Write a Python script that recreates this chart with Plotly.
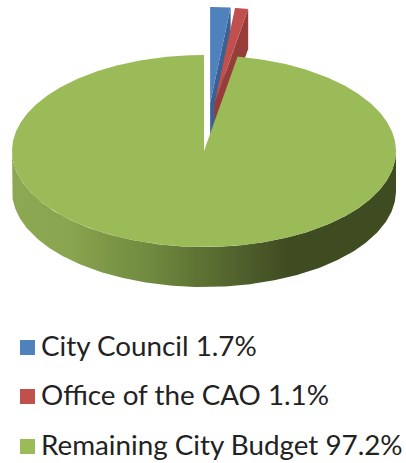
import numpy as np
import plotly.graph_objects as go

# Budget shares, in percent
categories = ["City Council", "Office of the CAO", "Remaining City Budget"]
values = [1.7, 1.1, 97.2]
colors = ["#4F81BD", "#C0504D", "#9BBB59"]
side_colors = ["#3A6194", "#963D3A", "#9BBB59"]
pull_x = [0.6, 0.39, 0.0]
pull_y = [0.5, 0.5, 0.0]

# Disc projection, in page pixels
WIDTH, HEIGHT = 406, 463
CX, CY = 204.0, 151.0
RX, RY = 192.0, 96.0
DEPTH = 40.0

# Shading along the rim of the disc, left to right
rim_stops = [
    (0.00, "#8CA852"),
    (0.15, "#8AA54F"),
    (0.24, "#7E9848"),
    (0.36, "#708A40"),
    (0.49, "#5D7233"),
    (0.62, "#4D5C2B"),
    (0.72, "#3F4B21"),
    (1.00, "#3F4B21"),
]

legend_y = [347.5, 396.5, 446.5]
legend_x = 42
swatch_x = 27.5


def project(theta, cx, cy):
    """Clockwise angle from twelve o'clock to a point on the ellipse."""
    return cx + RX * np.sin(theta), cy - RY * np.cos(theta)


def polygon(xs, ys, color):
    return go.Scatter(
        x=xs, y=ys, mode="lines", fill="toself", fillcolor=color,
        line=dict(width=0), hoverinfo="skip", showlegend=False,
    )


edges = np.concatenate([[0.0], np.cumsum(values)]) / 100.0 * 2 * np.pi
fig = go.Figure()

# Pulled-out slices, drawn back to front
for i in (0, 1):
    a0, a1 = edges[i], edges[i + 1]
    mid = (a0 + a1) / 2
    ax, ay = project(mid, 0, 0)
    ax, ay = CX + ax * pull_x[i], CY + ay * pull_y[i]
    arc = np.linspace(a0, a1, 12)
    rx, ry = project(arc, ax, ay)
    # radial cut face on the clockwise side
    fig.add_trace(polygon(
        [ax, rx[-1], rx[-1], ax, ax],
        [ay, ry[-1], ry[-1] + DEPTH, ay + DEPTH, ay],
        side_colors[i],
    ))
    fig.add_trace(polygon(
        np.r_[ax, rx, ax], np.r_[ay, ry, ay], colors[i],
    ))

# Main slice: rim first, then its top face
front = np.linspace(np.pi / 2, 3 * np.pi / 2, 240)
fx, fy = project(front, CX, CY)
rim_trace = polygon(np.r_[fx, fx[::-1], fx[0]],
                    np.r_[fy, fy[::-1] + DEPTH, fy[0]], "#778F45")
rim_trace.fillgradient = dict(
    type="horizontal", start=CX - RX, stop=CX + RX,
    colorscale=[[s, c] for s, c in rim_stops],
)
fig.add_trace(rim_trace)

top = np.linspace(edges[2], edges[3], 720)
tx, ty = project(top, CX, CY)
fig.add_trace(polygon(np.r_[CX, tx, CX], np.r_[CY, ty, CY], colors[2]))

# Legend swatches and labels
fig.add_trace(go.Scatter(
    x=[swatch_x] * 3, y=legend_y, mode="markers",
    marker=dict(symbol="square", size=15, color=colors, line=dict(width=0)),
    hoverinfo="skip", showlegend=False,
))
for name, val, y in zip(categories, values, legend_y):
    fig.add_annotation(
        x=legend_x, y=y, text=f"{name} {val}%", showarrow=False,
        xanchor="left", yanchor="middle", xshift=-3, yshift=2,
        font=dict(family="Lato", size=27.8, color="#222222"),
    )

fig.update_xaxes(range=[0, WIDTH], visible=False, fixedrange=True)
fig.update_yaxes(range=[HEIGHT, 0], visible=False, fixedrange=True)
fig.update_layout(
    width=WIDTH, height=HEIGHT, margin=dict(l=0, r=0, t=0, b=0),
    paper_bgcolor="white", plot_bgcolor="white", showlegend=False,
)
fig.write_html("out.html")
